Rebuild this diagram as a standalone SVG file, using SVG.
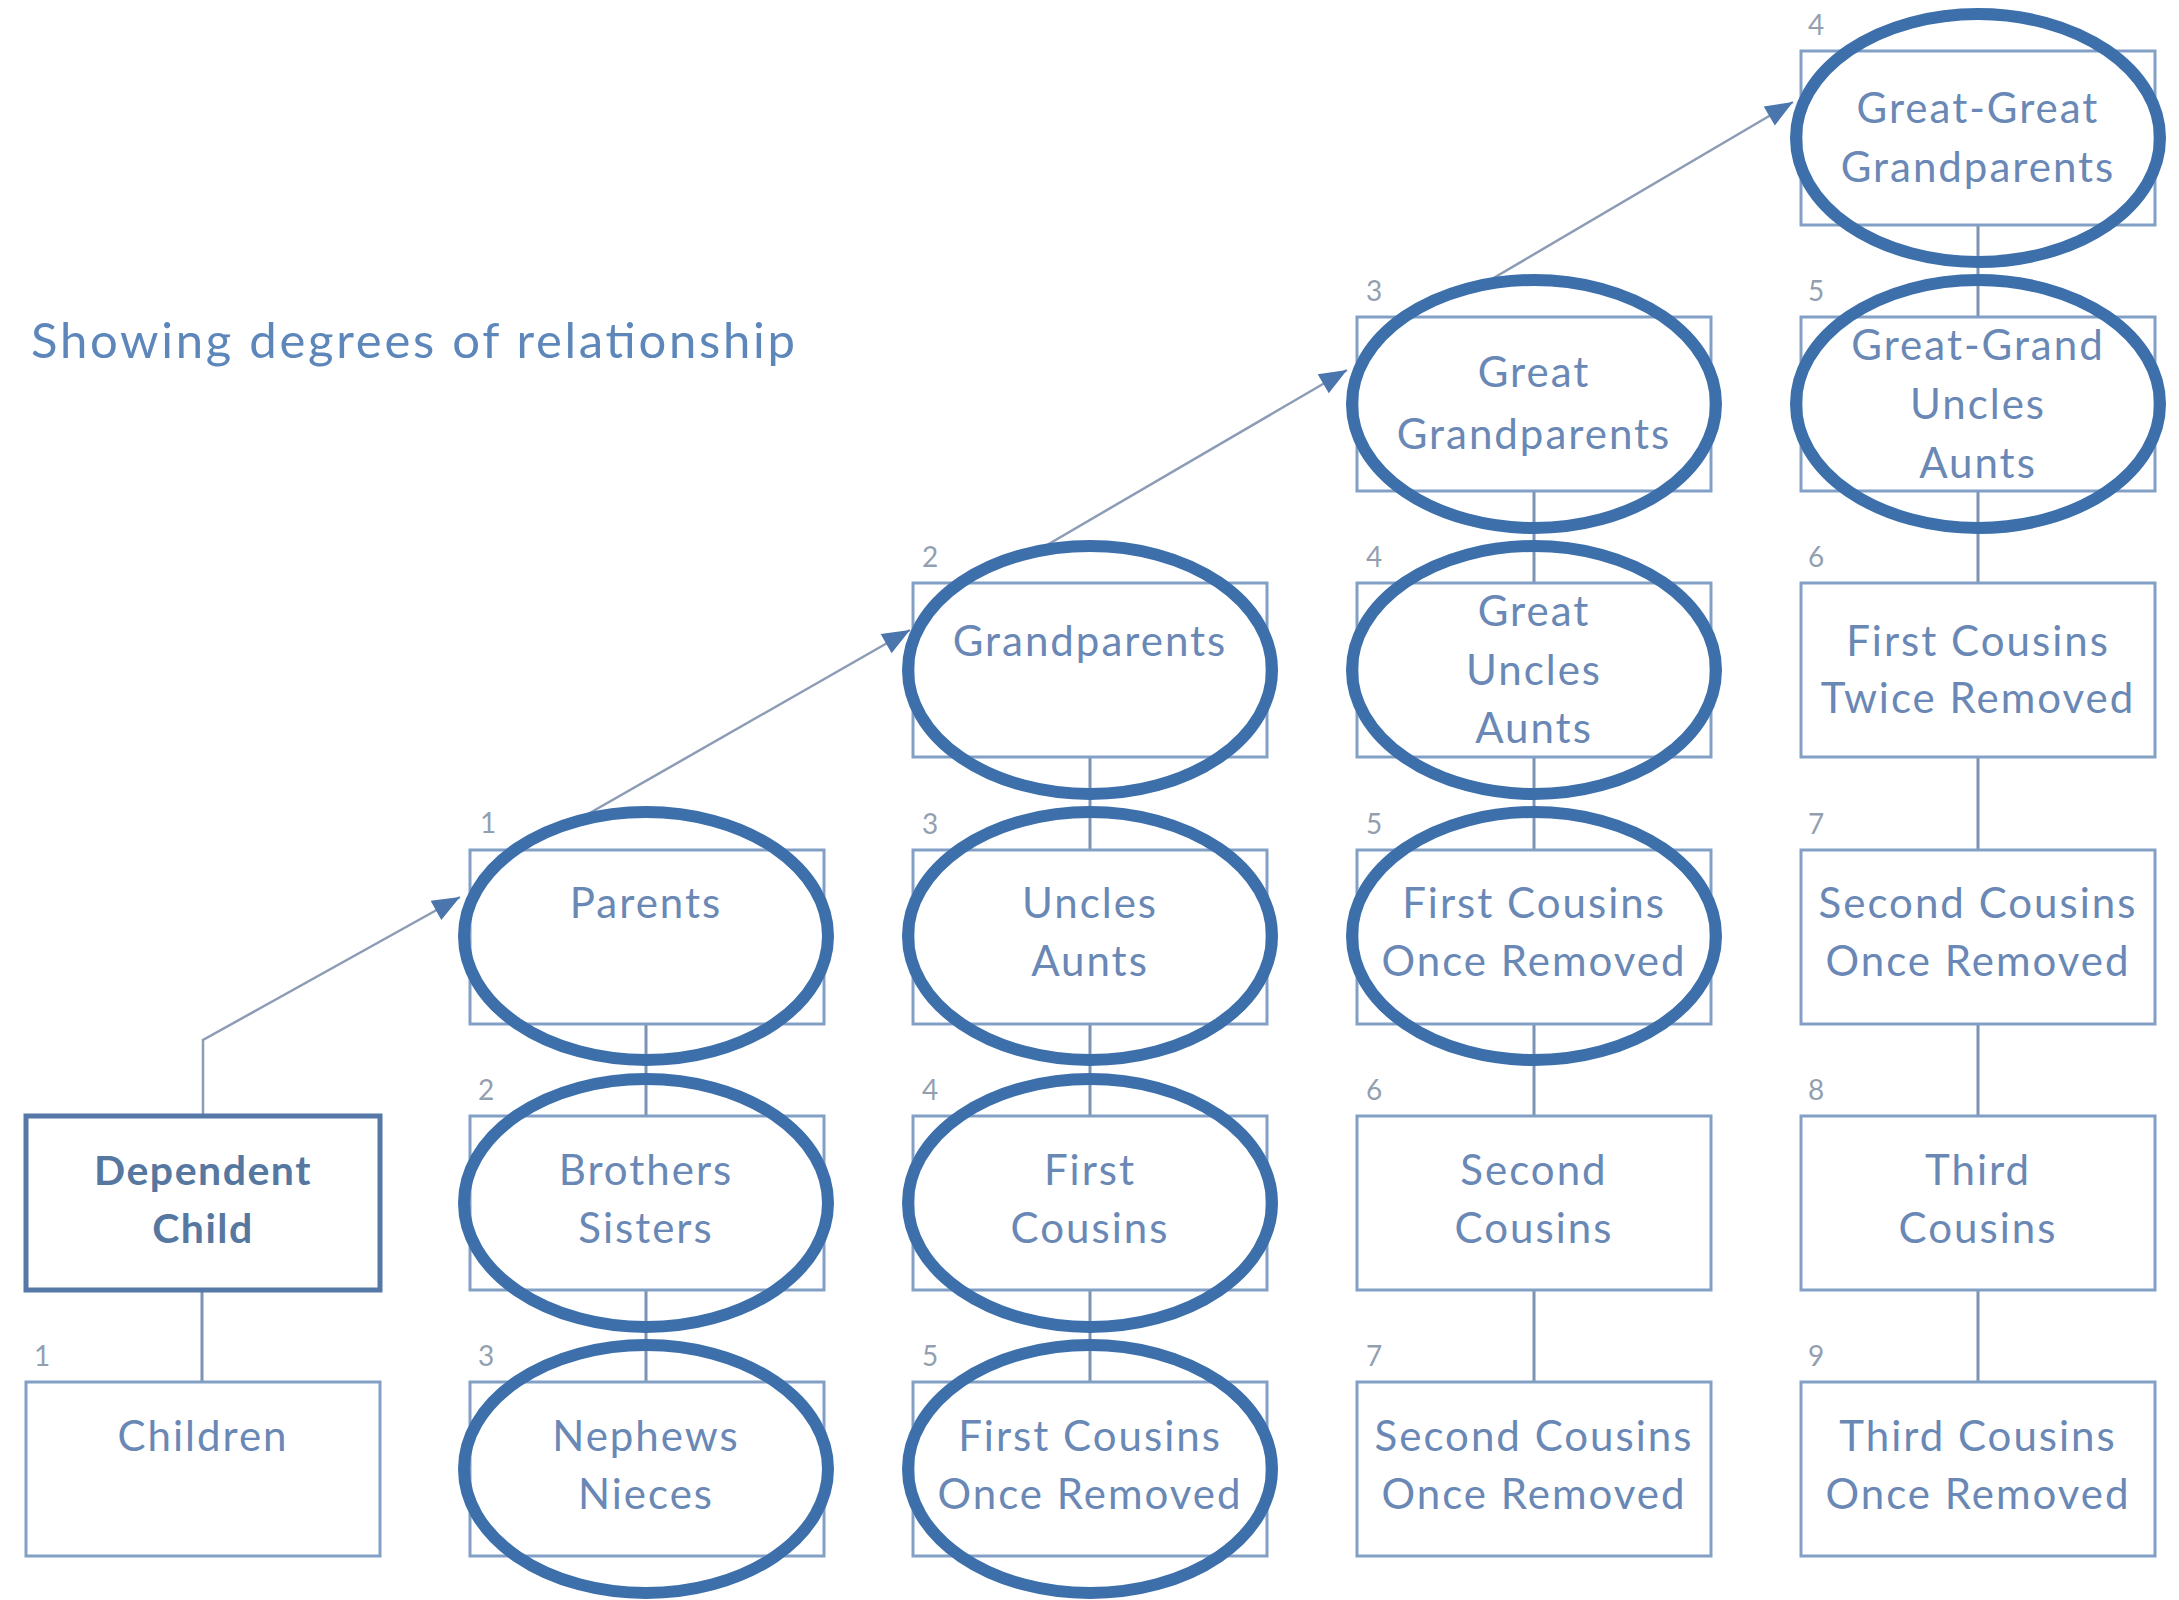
<svg xmlns="http://www.w3.org/2000/svg" width="2179" height="1600" viewBox="0 0 2179 1600">
<defs>
<style>
.box{fill:none;stroke:#829fc6;stroke-width:3}
.dep{fill:none;stroke:#5578a6;stroke-width:5}
.lbl{font-family:Lato,"Open Sans","Liberation Sans",sans-serif;font-size:42px;letter-spacing:2px;fill:#6a88b5;text-anchor:middle}
.depl{font-family:Lato,"Open Sans","Liberation Sans",sans-serif;font-size:41px;letter-spacing:1.5px;fill:#56779f;font-weight:bold;text-anchor:middle}
.num{font-family:Lato,"Liberation Sans",sans-serif;font-size:28px;fill:#939fb0}
.conn{fill:none;stroke:#7d93b3;stroke-width:3}
.ring{fill:none;stroke:#3d6fab;stroke-width:12}
.title{font-family:Lato,"Open Sans","Liberation Sans",sans-serif;font-size:49px;fill:#5d87bb}
</style>
<marker id="ahb" viewBox="0 0 10 8" refX="10" refY="4" markerWidth="30" markerHeight="22" markerUnits="userSpaceOnUse" orient="auto">
<path d="M0,0 L10,4 L0,8 z" fill="#4a76ad"/>
</marker>
</defs>
<rect width="2179" height="1600" fill="#ffffff"/>
<text class="title" x="31" y="358" textLength="764" lengthAdjust="spacing">Showing degrees of relationship</text>

<g id="connectors">
<path class="conn" d="M202 1290 V1382"/>
<path class="conn" d="M646 1024 V1116 M646 1290 V1382"/>
<path class="conn" d="M1090 757 V850 M1090 1024 V1116 M1090 1290 V1382"/>
<path class="conn" d="M1534 491 V583 M1534 757 V850 M1534 1024 V1116 M1534 1290 V1382"/>
<path class="conn" d="M1978 225 V317 M1978 491 V583 M1978 757 V850 M1978 1024 V1116 M1978 1290 V1382"/>
<path d="M203 1116 V1040 L460 897" fill="none" stroke="#8c9cb5" stroke-width="2.5" marker-end="url(#ahb)"/>
<path d="M574 822 L910 630" fill="none" stroke="#8c9cb5" stroke-width="2.5" marker-end="url(#ahb)"/>
<path d="M1035 552 L1347 370" fill="none" stroke="#8c9cb5" stroke-width="2.5" marker-end="url(#ahb)"/>
<path d="M1480 286 L1793 102" fill="none" stroke="#8c9cb5" stroke-width="2.5" marker-end="url(#ahb)"/>
</g>

<g id="dependent-child"><rect class="dep" x="26" y="1116" width="354" height="174"/><text class="depl" x="203" y="1185">Dependent</text><text class="depl" x="203" y="1243">Child</text></g>
<g id="children"><text class="num" x="34" y="1366">1</text><rect class="box" x="26" y="1382" width="354" height="174"/><text class="lbl" x="203" y="1451">Children</text></g>

<g id="parents"><text class="num" x="480" y="833">1</text><rect class="box" x="470" y="850" width="354" height="174"/><text class="lbl" x="646" y="918">Parents</text><ellipse class="ring" cx="646" cy="936" rx="182" ry="124"/></g>
<g id="brothers-sisters"><text class="num" x="478" y="1100">2</text><rect class="box" x="470" y="1116" width="354" height="174"/><text class="lbl" x="646" y="1185">Brothers</text><text class="lbl" x="646" y="1243">Sisters</text><ellipse class="ring" cx="646" cy="1203" rx="182" ry="124"/></g>
<g id="nephews-nieces"><text class="num" x="478" y="1366">3</text><rect class="box" x="470" y="1382" width="354" height="174"/><text class="lbl" x="646" y="1451">Nephews</text><text class="lbl" x="646" y="1509">Nieces</text><ellipse class="ring" cx="646" cy="1469" rx="182" ry="124"/></g>

<g id="grandparents"><text class="num" x="922" y="567">2</text><rect class="box" x="913" y="583" width="354" height="174"/><text class="lbl" x="1090" y="656">Grandparents</text><ellipse class="ring" cx="1090" cy="670" rx="182" ry="124"/></g>
<g id="uncles-aunts"><text class="num" x="922" y="834">3</text><rect class="box" x="913" y="850" width="354" height="174"/><text class="lbl" x="1090" y="918">Uncles</text><text class="lbl" x="1090" y="976">Aunts</text><ellipse class="ring" cx="1090" cy="936" rx="182" ry="124"/></g>
<g id="first-cousins"><text class="num" x="922" y="1100">4</text><rect class="box" x="913" y="1116" width="354" height="174"/><text class="lbl" x="1090" y="1185">First</text><text class="lbl" x="1090" y="1243">Cousins</text><ellipse class="ring" cx="1090" cy="1203" rx="182" ry="124"/></g>
<g id="first-cousins-once-removed-a"><text class="num" x="922" y="1366">5</text><rect class="box" x="913" y="1382" width="354" height="174"/><text class="lbl" x="1090" y="1451">First Cousins</text><text class="lbl" x="1090" y="1509">Once Removed</text><ellipse class="ring" cx="1090" cy="1469" rx="182" ry="124"/></g>

<g id="great-grandparents"><text class="num" x="1366" y="301">3</text><rect class="box" x="1357" y="317" width="354" height="174"/><text class="lbl" x="1534" y="387">Great</text><text class="lbl" x="1534" y="449">Grandparents</text><ellipse class="ring" cx="1534" cy="404" rx="182" ry="124"/></g>
<g id="great-uncles-aunts"><text class="num" x="1366" y="567">4</text><rect class="box" x="1357" y="583" width="354" height="174"/><text class="lbl" x="1534" y="626">Great</text><text class="lbl" x="1534" y="685">Uncles</text><text class="lbl" x="1534" y="743">Aunts</text><ellipse class="ring" cx="1534" cy="670" rx="182" ry="124"/></g>
<g id="first-cousins-once-removed-b"><text class="num" x="1366" y="834">5</text><rect class="box" x="1357" y="850" width="354" height="174"/><text class="lbl" x="1534" y="918">First Cousins</text><text class="lbl" x="1534" y="976">Once Removed</text><ellipse class="ring" cx="1534" cy="936" rx="182" ry="124"/></g>
<g id="second-cousins"><text class="num" x="1366" y="1100">6</text><rect class="box" x="1357" y="1116" width="354" height="174"/><text class="lbl" x="1534" y="1185">Second</text><text class="lbl" x="1534" y="1243">Cousins</text></g>
<g id="second-cousins-once-removed-a"><text class="num" x="1366" y="1366">7</text><rect class="box" x="1357" y="1382" width="354" height="174"/><text class="lbl" x="1534" y="1451">Second Cousins</text><text class="lbl" x="1534" y="1509">Once Removed</text></g>

<g id="great-great-grandparents"><text class="num" x="1808" y="35">4</text><rect class="box" x="1801" y="51" width="354" height="174"/><text class="lbl" x="1978" y="123">Great-Great</text><text class="lbl" x="1978" y="182">Grandparents</text><ellipse class="ring" cx="1978" cy="138" rx="182" ry="124"/></g>
<g id="great-grand-uncles-aunts"><text class="num" x="1808" y="301">5</text><rect class="box" x="1801" y="317" width="354" height="174"/><text class="lbl" x="1978" y="360">Great-Grand</text><text class="lbl" x="1978" y="419">Uncles</text><text class="lbl" x="1978" y="478">Aunts</text><ellipse class="ring" cx="1978" cy="404" rx="182" ry="124"/></g>
<g id="first-cousins-twice-removed"><text class="num" x="1808" y="567">6</text><rect class="box" x="1801" y="583" width="354" height="174"/><text class="lbl" x="1978" y="656">First Cousins</text><text class="lbl" x="1978" y="713">Twice Removed</text></g>
<g id="second-cousins-once-removed-b"><text class="num" x="1808" y="834">7</text><rect class="box" x="1801" y="850" width="354" height="174"/><text class="lbl" x="1978" y="918">Second Cousins</text><text class="lbl" x="1978" y="976">Once Removed</text></g>
<g id="third-cousins"><text class="num" x="1808" y="1100">8</text><rect class="box" x="1801" y="1116" width="354" height="174"/><text class="lbl" x="1978" y="1185">Third</text><text class="lbl" x="1978" y="1243">Cousins</text></g>
<g id="third-cousins-once-removed"><text class="num" x="1808" y="1366">9</text><rect class="box" x="1801" y="1382" width="354" height="174"/><text class="lbl" x="1978" y="1451">Third Cousins</text><text class="lbl" x="1978" y="1509">Once Removed</text></g>
</svg>
